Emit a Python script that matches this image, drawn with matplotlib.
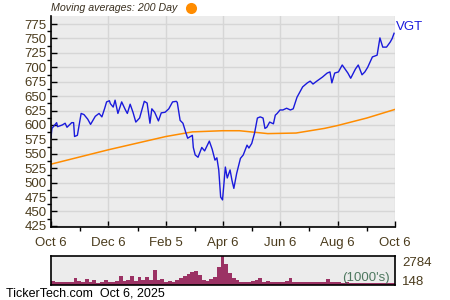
import numpy as np
import pandas as pd
import matplotlib
matplotlib.use('Agg')
import matplotlib.pyplot as plt

plt.rcParams['font.family'] = ['Liberation Sans', 'DejaVu Sans']

start = pd.Timestamp('2024-10-06')

# price samples: days after start, close value
price_days = [0, 1, 4, 6, 7, 12, 15, 17, 22, 24, 25, 28, 32, 35, 39, 42, 47, 51, 54, 57,
              59, 62, 63, 66, 68, 71, 75, 79, 81, 84, 87, 90, 94, 99, 102, 105, 107, 110, 114, 117,
              121, 125, 129, 133, 134, 137, 140, 143, 145, 150, 151, 153, 156, 160, 163, 168, 171, 174, 176, 178,
              180, 182, 185, 187, 190, 192, 194, 197, 201, 204, 208, 210, 213, 216, 219, 222, 225, 227, 229, 232,
              236, 238, 240, 243, 246, 250, 254, 257, 261, 264, 267, 272, 275, 278, 282, 288, 293, 296, 298, 301,
              305, 309, 312, 315, 318, 323, 326, 330, 333, 336, 341, 346, 349, 352, 356, 360, 362, 364]
price_vals = [578, 594, 600, 604, 597, 600, 603, 596, 604, 604, 580, 582, 620, 618, 610, 601, 615, 620, 614, 629,
              640, 642, 637, 631, 643, 620, 640, 626, 620, 636, 622, 605, 612, 641, 638, 603, 628, 622, 607, 621,
              622, 628, 640, 641, 639, 608, 603, 587, 577, 582, 561, 548, 544, 561, 555, 572, 558, 539, 543, 522,
              475, 470, 527, 508, 522, 504, 490, 516, 542, 548, 565, 560, 568, 586, 612, 614, 612, 594, 596, 605,
              602, 617, 620, 626, 626, 629, 626, 628, 648, 657, 666, 673, 676, 671, 676, 683, 690, 692, 673, 690,
              692, 704, 697, 690, 681, 697, 704, 687, 692, 700, 718, 721, 751, 735, 735, 744, 750, 759]

# 200 day moving average
ma_days = [0, 61, 122, 150, 182, 200, 230, 260, 290, 304, 335, 365]
ma_vals = [532, 557, 580, 588, 590, 590, 585, 586, 594, 599, 612, 627]

# volume (1000's), one value every 4 days
vol_step = 4
volume = [380, 320, 290, 260, 260, 320, 640, 350, 320, 540, 320, 450, 190, 320, 480, 260,
          320, 380, 900, 380, 450, 830, 420, 770, 450, 770, 480, 1470, 450, 580, 320, 380,
          290, 480, 700, 900, 1020, 1220, 1340, 960, 480, 380, 580, 800, 1760, 2784, 1980, 1120,
          640, 450, 320, 290, 320, 380, 480, 700, 320, 380, 290, 260, 320, 290, 380, 640,
          290, 260, 320, 260, 290, 260, 320, 290, 260, 580, 290, 260, 320, 220, 260, 190,
          160, 170, 160, 170, 160, 160, 150, 160, 160, 150, 160, 148]

tick_labels = ['Oct 6', 'Dec 6', 'Feb 5', 'Apr 6', 'Jun 6', 'Aug 6', 'Oct 6']
tick_dates = pd.to_datetime(['2024-10-06', '2024-12-06', '2025-02-05', '2025-04-06',
                             '2025-06-06', '2025-08-06', '2025-10-06'])
minor_dates = pd.to_datetime(['2024-11-06', '2025-01-06', '2025-03-08', '2025-05-07',
                              '2025-07-07', '2025-09-06'])

txt = '#4a3b1c'
bg = '#ececec'

price_t = start + pd.to_timedelta(price_days, unit='D')
ma_t = start + pd.to_timedelta(ma_days, unit='D')
vol_t = start + pd.to_timedelta(np.arange(len(volume)) * vol_step, unit='D')

fig = plt.figure(figsize=(4.5, 3.0), dpi=100)
ax = fig.add_axes([0.1133, 0.2433, 0.7645, 0.7034])
ax.set_facecolor(bg)
ax.plot(ma_t, ma_vals, color='#ff8c00', lw=1.1)
ax.plot(price_t, price_vals, color='#1a1adc', lw=1.0)
ax.set_xlim(tick_dates[0], tick_dates[-1])
ax.set_ylim(423, 789)
ax.set_yticks(np.arange(425, 776, 25))
ax.set_yticks(np.arange(437.5, 776, 25), minor=True)
ax.set_xticks(tick_dates)
ax.set_xticklabels(tick_labels)
ax.set_xticks(minor_dates, minor=True)
ax.grid(True, which='major', color='#d6d6d6', lw=1.0)
ax.set_axisbelow(True)
for s in ['top', 'right']:
    ax.spines[s].set_visible(False)
ax.spines['left'].set_linewidth(1.2)
ax.spines['bottom'].set_linewidth(1.2)
ax.tick_params(axis='both', which='major', length=4, width=1, colors='black', labelcolor=txt, labelsize=9.5)
ax.tick_params(axis='both', which='minor', length=3, width=1, colors='black')
ax.tick_params(axis='y', direction='in', pad=3)
ax.tick_params(axis='x', direction='in', pad=7)
ax.text(1.003, (price_vals[-1] - 423) / (789 - 423), 'VGT', transform=ax.transAxes,
        color='#1a1adc', fontsize=9.5, va='bottom', ha='left')

fig.text(0.113, 0.973, 'Moving averages: 200 Day', style='italic', color='#3a3020',
         fontsize=7.7, ha='left', va='center')
ax.plot([0.424], [0.973], 'o', color='#ff8c00', markersize=8, mec='none',
        transform=fig.transFigure, clip_on=False)

# volume panel
vax = fig.add_axes([0.1133, 0.05, 0.7645, 0.0967])
vax.set_facecolor(bg)
vax.bar(vol_t, volume, width=vol_step, align='edge', color='#9b3264', lw=0)
vax.set_xlim(tick_dates[0], tick_dates[-1])
vax.set_ylim(0, 2784)
vax.set_xticks([])
vax.set_yticks([])
for s in vax.spines.values():
    s.set_linewidth(1.2)
vax.text(1.02, 0.75, '2784', transform=vax.transAxes, color=txt, fontsize=9.5, va='center')
vax.text(1.02, 0.1, '148', transform=vax.transAxes, color=txt, fontsize=9.5, va='center')
vax.text(0.985, 0.03, "(1000's)", transform=vax.transAxes, color='#3d6b50', fontsize=9.5,
         ha='right', va='bottom', alpha=0.9)

fig.text(0.013, 0.02, 'TickerTech.com  Oct 6, 2025', color='black', fontsize=9, ha='left', va='center')

fig.savefig('out.png', dpi=100)
